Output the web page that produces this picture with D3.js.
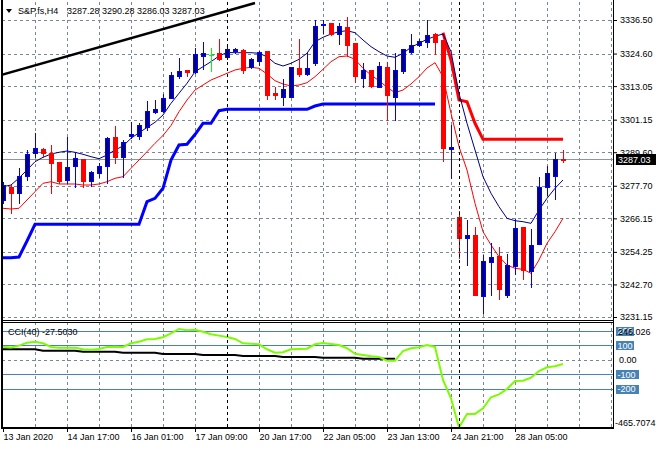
<!DOCTYPE html>
<html><head><meta charset="utf-8">
<script src="https://cdn.jsdelivr.net/npm/d3@7"></script>
<style>
html,body{margin:0;padding:0;background:#fff;}
svg{display:block;font-family:"Liberation Sans",Arial,sans-serif;}
</style></head><body>
<svg id="chart" width="660" height="450"></svg>
<script>
// ---------------- data ----------------
const symbolLabel = "S&P.fs,H4";
const lastOHLC = ["3287.28", "3290.28", "3286.03", "3287.03"];
const cciLabel = "CCI(40) -27.5030";

const openP = [3272.65,3277.37,3275.24,3281.16,3289.22,3290.63,3289.22,3286.13,3279.74,3284.82,
3287.09,3279.28,3282.12,3284.82,3295.10,3288.01,3295.25,3295.46,3298.65,3303.97,
3304.22,3308.94,3316.74,3318.76,3317.95,3323.84,3324.19,3324.69,3323.48,3325.40,
3325.86,3319.72,3322.06,3325.40,3310.71,3309.29,3309.29,3319.37,3317.35,3321.14,
3334.62,3335.33,3331.53,3334.12,3328.45,3316.03,3318.76,3312.84,3319.72,3309.08,
3318.52,3325.26,3327.74,3328.59,3331.53,3329.41,3290.63,3266.51,3259.28,3260.24,
3238.70,3250.76,3252.79,3238.95,3249.24,3263.18,3247.57,3256.93,3277.15,3281.27,
3287.28];
const highP = [3279.03,3277.97,3284.00,3290.39,3296.42,3291.10,3292.16,3286.13,3295.10,3289.32,
3287.19,3283.04,3285.78,3295.10,3298.90,3293.93,3300.42,3299.86,3307.77,3308.12,
3310.14,3318.16,3323.13,3318.76,3326.67,3328.59,3326.46,3329.76,3327.63,3326.46,
3326.11,3322.91,3325.61,3325.61,3312.63,3315.46,3319.93,3329.65,3325.26,3336.50,
3336.50,3335.33,3335.54,3337.46,3328.45,3321.35,3318.76,3321.71,3321.71,3324.69,
3326.11,3331.53,3329.65,3336.50,3331.78,3329.41,3299.25,3268.75,3265.56,3262.97,
3253.14,3257.29,3255.87,3253.50,3265.80,3263.18,3262.26,3280.92,3284.71,3289.32,
3290.28];
const lowP = [3271.59,3268.04,3271.59,3279.74,3287.90,3287.90,3275.13,3278.68,3278.57,3277.26,
3277.37,3277.72,3280.81,3278.79,3285.67,3280.92,3294.54,3294.29,3297.48,3303.40,
3303.76,3308.73,3315.82,3316.74,3317.59,3319.12,3318.41,3322.31,3322.56,3324.90,
3317.81,3319.37,3320.54,3308.37,3308.37,3306.35,3309.08,3316.64,3316.99,3320.54,
3331.78,3331.18,3327.99,3323.73,3314.61,3312.63,3312.63,3312.63,3301.03,3301.03,
3317.59,3324.90,3327.28,3326.82,3324.33,3286.59,3280.35,3251.97,3249.59,3238.95,
3232.67,3238.95,3237.43,3238.35,3246.40,3244.52,3241.68,3256.93,3274.42,3272.90,
3286.03];
const closeP = [3277.97,3275.03,3281.16,3288.97,3290.99,3289.43,3285.67,3279.28,3284.46,3287.44,
3279.28,3282.58,3284.82,3294.54,3287.80,3293.12,3296.17,3299.25,3304.22,3304.93,
3308.94,3316.99,3318.41,3318.16,3324.33,3324.69,3324.19,3322.67,3326.11,3326.11,
3318.76,3322.56,3325.26,3309.90,3309.79,3311.92,3319.72,3317.35,3319.37,3334.37,
3335.08,3331.53,3334.37,3327.63,3316.74,3318.76,3313.09,3320.18,3309.90,3318.76,
3326.11,3327.63,3329.16,3331.18,3328.80,3290.99,3291.34,3259.06,3260.24,3238.95,
3251.01,3252.32,3241.19,3249.59,3262.82,3247.82,3256.69,3277.15,3282.12,3287.09,
3287.03];

const fastMA = [3277.37,3277.97,3280.45,3283.29,3286.23,3287.80,3288.97,3289.57,3290.03,3289.57,
3288.86,3288.01,3287.30,3288.61,3290.39,3291.80,3294.54,3296.52,3298.37,3300.21,
3302.80,3306.95,3310.50,3314.05,3318.16,3319.93,3321.71,3323.73,3324.97,3324.90,
3324.90,3324.90,3324.69,3323.48,3321.14,3320.18,3321.14,3322.56,3324.69,3328.80,
3330.36,3331.53,3332.35,3332.70,3331.99,3329.41,3327.03,3325.26,3323.73,3323.27,
3324.69,3326.82,3328.23,3329.65,3330.72,3331.53,3325.26,3310.50,3299.86,3290.39,
3280.92,3275.03,3270.27,3266.16,3265.31,3264.95,3264.38,3269.10,3273.25,3276.80,
3279.74];
const slowMA = [3269.71,3269.46,3269.71,3272.65,3275.59,3278.57,3279.14,3278.33,3278.33,3278.33,
3277.97,3277.97,3278.33,3279.14,3280.35,3280.92,3283.89,3286.84,3289.78,3292.76,
3295.53,3299.08,3303.97,3308.12,3311.67,3313.44,3315.22,3316.39,3317.59,3318.76,
3319.37,3319.72,3319.37,3317.35,3314.97,3313.80,3313.09,3313.44,3314.26,3316.39,
3319.01,3321.71,3323.48,3323.73,3322.56,3319.37,3316.99,3314.97,3312.63,3310.71,
3311.67,3313.80,3316.39,3319.47,3321.35,3316.39,3303.40,3291.56,3283.29,3271.48,
3261.41,3256.69,3252.54,3249.59,3248.42,3248.07,3246.65,3251.37,3257.29,3261.41,
3266.16];

// thick trailing lines (bars 0..54 blue, bars 55..70 red)
const supportStop = [3252.18,3252.18,3252.43,3258.10,3264.03,3264.03,3264.03,3264.03,3264.03,3264.03,
3264.03,3264.03,3264.03,3264.03,3264.03,3264.03,3264.03,3264.03,3272.05,3273.25,
3276.80,3286.84,3292.16,3292.41,3295.88,3299.86,3299.86,3304.33,3304.82,3304.82,
3304.82,3304.82,3304.82,3304.82,3304.82,3304.82,3304.82,3304.82,3304.82,3305.99,
3306.70,3306.70,3306.70,3306.70,3306.70,3306.70,3306.70,3306.70,3306.70,3306.70,
3306.70,3306.70,3306.70,3306.70,3306.70];
const resistStart = 55;
const resistStop = [3331.99,3322.31,3308.12,3307.52,3299.86,3294.18,3294.18,3294.18,3294.18,3294.18,
3294.18,3294.18,3294.18,3294.18,3294.18,3294.18];

// trend line anchors (bar index, price)
const trendBars = [0, 31.5];
const trendPrices = [3316.35, 3342.53];

const cciValues = [92,86,99,119,126,115,90,85,85,85,
74,71,76,90,92,90,115,126,143,145,
157,184,214,205,209,195,177,168,159,145,
115,112,108,74,50,53,74,76,78,108,
117,110,103,81,43,34,26,21,-5,-5,
62,81,88,103,90,-138,-264,-465.7,-372,-372,
-333,-257,-237,-200,-145,-143,-122,-76,-50,-43,
-27.503];
const cciSignal = [74,74,74,74,74,64,64,64,64,64,
57,57,57,57,57,50,50,50,50,50,
41,41,41,41,41,34,34,34,34,34,
28,28,28,28,28,21,21,21,21,21,
16,16,16,16,16,9,9,9,9,9];
const cciLevels = [200, 100, -100, -200];
const cciMax = 246.026, cciMin = -465.7074;

const priceTicks = [3336.50,3324.60,3313.05,3301.15,3289.60,3277.70,3266.15,3254.25,3242.70,3231.15];
const timeTickBars = [0, 8, 16, 24, 32, 40, 48, 56, 64];
const timeTickLabels = ["13 Jan 2020","14 Jan 17:00","16 Jan 01:00","17 Jan 09:00","20 Jan 17:00",
  "22 Jan 05:00","23 Jan 13:00","24 Jan 21:00","28 Jan 05:00"];
const separatorBars = [28, 57];
const lastPrice = 3287.03;

// ---------------- layout ----------------
const L = 2, R = 614, mainTop = 2, mainBot = 320, cciTop = 322, cciBot = 428;
const svg = d3.select("#chart");
const FONT = 9;
const GRID = "#778899";

const x = d3.scaleLinear().domain([0, 70]).range([3, 563]);
const y = d3.scaleLinear().domain([3231.15, 3336.50]).range([317, 20]);
const yc = d3.scaleLinear().domain([cciMin, cciMax]).range([427.5, 324.3]);
const px = v => Math.round(v) + 0.5;

const defs = svg.append("defs");
defs.append("clipPath").attr("id","clipMain").append("rect")
  .attr("x", L).attr("y", 0).attr("width", R - L).attr("height", mainBot);
defs.append("clipPath").attr("id","clipCCI").append("rect")
  .attr("x", L).attr("y", cciTop).attr("width", R - L).attr("height", cciBot - cciTop);

// grid
const gridBars = d3.range(4, 77, 4);
const gMain = svg.append("g").attr("clip-path","url(#clipMain)");
const gCCI = svg.append("g").attr("clip-path","url(#clipCCI)");

[gMain, gCCI].forEach((g, k) => {
  const y0 = k === 0 ? mainTop : cciTop, y1 = k === 0 ? mainBot : cciBot;
  g.selectAll("line.vg").data(gridBars).join("line")
    .attr("x1", d => px(x(d))).attr("x2", d => px(x(d)))
    .attr("y1", y0).attr("y2", y1)
    .attr("stroke", GRID).attr("stroke-dasharray","3,3").attr("stroke-width",1);
});
gMain.selectAll("line.hg").data(priceTicks).join("line")
  .attr("x1", L).attr("x2", R).attr("y1", d => px(y(d))).attr("y2", d => px(y(d)))
  .attr("stroke", GRID).attr("stroke-dasharray","3,3");

// CCI levels
gCCI.selectAll("line.lv").data(cciLevels).join("line")
  .attr("x1", L).attr("x2", R).attr("y1", d => px(yc(d))).attr("y2", d => px(yc(d)))
  .attr("stroke", "#4682B4").attr("stroke-width", 1);
gCCI.append("line").attr("x1", L).attr("x2", R).attr("y1", px(yc(0))).attr("y2", px(yc(0)))
  .attr("stroke", GRID).attr("stroke-dasharray","3,3");

// period separators
separatorBars.forEach(b => {
  [[mainTop, mainBot],[cciTop, cciBot]].forEach(([a, bb]) => {
    svg.append("line").attr("x1", px(x(b))).attr("x2", px(x(b))).attr("y1", a).attr("y2", bb)
      .attr("stroke", "#000").attr("stroke-dasharray","3,3");
  });
});

// last price line
gMain.append("line").attr("x1", L).attr("x2", R).attr("y1", px(y(lastPrice))).attr("y2", px(y(lastPrice)))
  .attr("stroke", "#8a96a3").attr("stroke-width", 1);

// trend line
gMain.append("line")
  .attr("x1", x(trendBars[0]) - 4).attr("y1", y(trendPrices[0]) + 4 * (y(trendPrices[1]) - y(trendPrices[0])) / (x(trendBars[1]) - x(trendBars[0])))
  .attr("x2", x(trendBars[1])).attr("y2", y(trendPrices[1]))
  .attr("stroke", "#000").attr("stroke-width", 2.5);

// thick stop lines
const lineMain = d3.line().x(d => x(d[0])).y(d => y(d[1]));
gMain.append("path").datum(supportStop.map((v, i) => [i, v]))
  .attr("d", lineMain).attr("fill","none").attr("stroke","#0000FF").attr("stroke-width",3);
gMain.append("path").datum(resistStop.map((v, i) => [i + resistStart, v]))
  .attr("d", lineMain).attr("fill","none").attr("stroke","#FF0000").attr("stroke-width",3);

// moving averages
gMain.append("path").datum(slowMA.map((v, i) => [i, v]))
  .attr("d", lineMain).attr("fill","none").attr("stroke","#FF0000").attr("stroke-width",1);
gMain.append("path").datum(fastMA.map((v, i) => [i, v]))
  .attr("d", lineMain).attr("fill","none").attr("stroke","#000080").attr("stroke-width",1);

// candles
const bars = openP.map((o, i) => ({i, o, h: highP[i], l: lowP[i], c: closeP[i]}));
const cg = gMain.selectAll("g.candle").data(bars).join("g");
cg.each(function(d) {
  const g = d3.select(this);
  const cx = px(x(d.i));
  const col = d.c > d.o ? "#0000FF" : (d.c < d.o ? "#FF0000" : "#00FF00");
  g.append("line").attr("x1", cx).attr("x2", cx)
    .attr("y1", Math.round(y(d.h))).attr("y2", Math.round(y(d.l)) + 1)
    .attr("stroke", col).attr("stroke-width", 1);
  if (d.c === d.o) {
    g.append("line").attr("x1", cx - 2.5).attr("x2", cx + 2.5)
      .attr("y1", px(y(d.o))).attr("y2", px(y(d.o))).attr("stroke", col);
  } else {
    const top = Math.round(y(Math.max(d.o, d.c))), bot = Math.round(y(Math.min(d.o, d.c)));
    g.append("rect").attr("x", cx - 2).attr("y", top + 0.5)
      .attr("width", 4).attr("height", Math.max(bot - top, 1))
      .attr("fill", d.c > d.o ? "#000080" : "#FF0000").attr("stroke", col).attr("stroke-width", 1);
  }
});

// CCI lines
const lineC = d3.line().x(d => x(d[0])).y(d => yc(d[1]));
gCCI.append("path").datum(cciSignal.map((v, i) => [i, v]))
  .attr("d", lineC).attr("fill","none").attr("stroke","#000").attr("stroke-width",2);
gCCI.append("path").datum(cciValues.map((v, i) => [i, v]))
  .attr("d", lineC).attr("fill","none").attr("stroke","#7CFC00").attr("stroke-width",2);

// borders
svg.append("line").attr("x1", 2).attr("x2", 2).attr("y1", 0).attr("y2", cciBot + 1).attr("stroke","#000").attr("stroke-width",2);
svg.append("line").attr("x1", 613.5).attr("x2", 613.5).attr("y1", 0).attr("y2", cciBot + 1).attr("stroke","#000");
svg.append("line").attr("x1", 1).attr("x2", 614).attr("y1", 320.5).attr("y2", 320.5).attr("stroke","#000");
svg.append("line").attr("x1", 1).attr("x2", 614).attr("y1", 322.5).attr("y2", 322.5).attr("stroke","#000");
svg.append("line").attr("x1", 1).attr("x2", 614).attr("y1", 428).attr("y2", 428).attr("stroke","#000").attr("stroke-width",2);

// price axis
const yAxis = d3.axisRight(y).tickValues(priceTicks).tickSize(3).tickPadding(3).tickFormat(d => d.toFixed(2));
const ga = svg.append("g").attr("transform", `translate(${R},0)`).call(yAxis);
ga.select(".domain").remove();
ga.selectAll("text").attr("font-size", FONT).attr("font-family", "Liberation Sans, Arial, sans-serif").attr("fill","#000");
ga.selectAll("line").attr("stroke","#000");

// last price box
const lpY = y(lastPrice);
svg.append("rect").attr("x", 616).attr("y", Math.round(lpY) - 5).attr("width", 40).attr("height", 11).attr("fill","#000");
svg.append("text").attr("x", 618).attr("y", lpY + 3.5).attr("font-size", FONT).attr("fill","#fff").text(lastPrice.toFixed(2));

// CCI right labels
cciLevels.forEach(v => {
  const t = String(v);
  const w = t.length * 5 + 3;
  const yy = yc(v);
  svg.append("rect").attr("x", 616).attr("y", Math.round(yy) - 4).attr("width", w).attr("height", 9).attr("fill","#4682B4");
  svg.append("text").attr("x", 617.5).attr("y", yy + 3.5).attr("font-size", FONT).attr("fill","#fff").text(t);
});
svg.append("text").attr("x", 618).attr("y", yc(cciMax) + 10.5).attr("font-size", FONT).attr("fill","#000").text(cciMax.toFixed(3));
svg.append("text").attr("x", 619).attr("y", yc(0) + 3.5).attr("font-size", FONT).attr("fill","#000").text("0.00");
svg.append("text").attr("x", 615).attr("y", 426).attr("font-size", FONT).attr("fill","#000").text(cciMin.toFixed(4));

// time axis
const xAxis = d3.axisBottom(x).tickValues(timeTickBars).tickSize(4).tickPadding(2)
  .tickFormat((d, k) => timeTickLabels[k]);
const gx = svg.append("g").attr("transform", `translate(0,${cciBot})`).call(xAxis);
gx.select(".domain").remove();
gx.selectAll("text").attr("font-size", FONT).attr("font-family", "Liberation Sans, Arial, sans-serif")
  .attr("text-anchor","start").attr("dx", 0).attr("fill","#000");
gx.selectAll("line").attr("stroke","#000");

// title
svg.append("path").attr("d","M6,9 L12,9 L9,13 Z").attr("fill","#000");
svg.append("text").attr("x", 18).attr("y", 14).attr("font-size", FONT).attr("fill","#000").text(symbolLabel);
svg.append("text").attr("x", 67).attr("y", 14).attr("font-size", FONT).attr("fill","#000").text(lastOHLC.join(" "));
svg.append("text").attr("x", 8).attr("y", 335).attr("font-size", FONT).attr("fill","#000").text(cciLabel);
</script>
</body></html>
